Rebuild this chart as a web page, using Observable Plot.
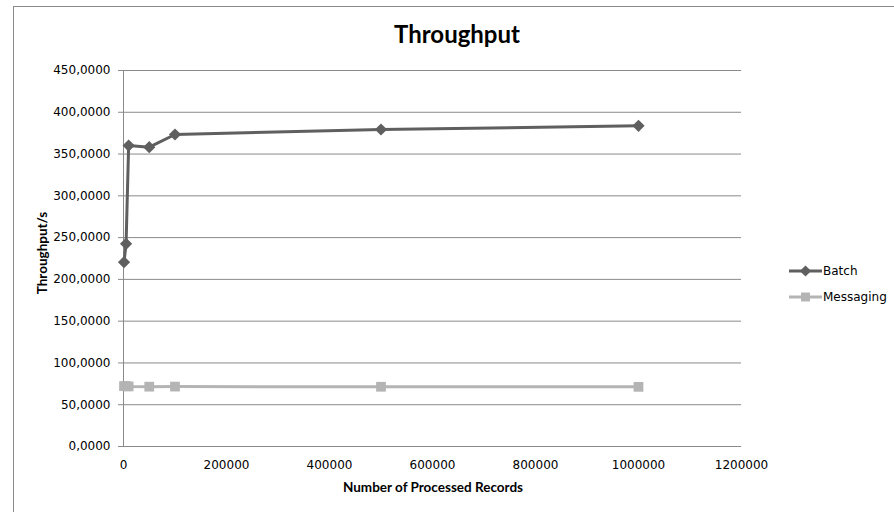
<!DOCTYPE html>
<html>
<head>
<meta charset="utf-8">
<script src="https://cdn.jsdelivr.net/npm/d3@7"></script>
<script src="https://cdn.jsdelivr.net/npm/@observablehq/plot@0.6"></script>
<style>
  html, body { margin: 0; padding: 0; background: #fff; }
  #wrap { position: relative; width: 894px; height: 512px; overflow: hidden; font-family: "DejaVu Sans", sans-serif; }
  #frame { position: absolute; left: 13px; top: 6px; width: 1000px; height: 1000px; border: 1px solid #8a8a8a; box-sizing: border-box; }
  #chart { position: absolute; left: 0; top: 0; }
  .ttl { position: absolute; font-family: Lato, "DejaVu Sans", sans-serif; font-weight: bold; color: #000; white-space: nowrap; }
  #legend { position: absolute; left: 0; top: 0; }
</style>
</head>
<body>
<div id="wrap">
  <div id="frame"></div>
  <div id="chart"></div>
  <div class="ttl" id="title"></div>
  <div class="ttl" id="xtitle"></div>
  <div class="ttl" id="ytitle"></div>
  <svg id="legend" width="894" height="512"></svg>
</div>
<script>
const titleText = "Throughput";
const xTitle = "Number of Processed Records";
const yTitle = "Throughput/s";

const records = [1000, 5000, 10000, 50000, 100000, 500000, 1000000];
const batch = [220.6, 242.6, 360.2, 358.2, 373.4, 379.4, 383.8];
const messaging = [72.3, 72.1, 71.9, 71.6, 71.7, 71.5, 71.4];

const seriesNames = ["Batch", "Messaging"];
const seriesColors = ["#5f5f5f", "#b4b4b4"];
const seriesSymbols = ["diamond2", "square"];

const xTicks = [0, 200000, 400000, 600000, 800000, 1000000, 1200000];
const yTicks = [0, 50, 100, 150, 200, 250, 300, 350, 400, 450];

const rows = [];
records.forEach((r, i) => {
  rows.push({records: r, value: batch[i], series: seriesNames[0]});
});
records.forEach((r, i) => {
  rows.push({records: r, value: messaging[i], series: seriesNames[1]});
});

const fmtY = d => d.toFixed(4).replace(".", ",");

const chart = Plot.plot({
  width: 894,
  height: 512,
  marginLeft: 123,
  marginRight: 153,
  marginTop: 70,
  marginBottom: 66,
  style: {fontFamily: "DejaVu Sans, sans-serif", fontSize: "12px", color: "#000", background: "transparent"},
  x: {domain: [0, 1200000], ticks: xTicks, tickFormat: d => String(d)},
  y: {domain: [0, 450], ticks: yTicks, tickFormat: fmtY},
  color: {domain: seriesNames, range: seriesColors},
  symbol: {domain: seriesNames, range: seriesSymbols},
  marks: [
    Plot.gridY(yTicks, {stroke: "#8a8a8a", strokeOpacity: 1, strokeWidth: 1}),
    Plot.ruleX([0], {stroke: "#8a8a8a", strokeWidth: 1}),
    Plot.axisY(yTicks, {tickSize: 5, tickPadding: 8, tickFormat: fmtY, label: null, stroke: "#8a8a8a", fill: "#000"}),
    Plot.axisX(xTicks, {tickSize: 0, tickPadding: 14, tickFormat: d => String(d), label: null, fill: "#000"}),
    Plot.line(rows, {x: "records", y: "value", z: "series", stroke: "series", strokeWidth: 3}),
    Plot.dot(rows, {x: "records", y: "value", fill: "series", symbol: "series", r: 5.5, stroke: "none"})
  ]
});
document.getElementById("chart").appendChild(chart);

const t = document.getElementById("title");
t.textContent = titleText;
t.style.fontSize = "24px";
t.style.left = "0px"; t.style.width = "914px"; t.style.textAlign = "center"; t.style.top = "19px";

const xt = document.getElementById("xtitle");
xt.textContent = xTitle;
xt.style.fontSize = "13.5px";
xt.style.left = "233px"; xt.style.width = "400px"; xt.style.textAlign = "center"; xt.style.top = "479px";

const yt = document.getElementById("ytitle");
yt.textContent = yTitle;
yt.style.fontSize = "13.5px";
yt.style.width = "200px"; yt.style.textAlign = "center";
yt.style.left = (42 - 100) + "px"; yt.style.top = (253 - 8) + "px";
yt.style.transform = "rotate(-90deg)";

const lg = d3.select("#legend");
const legY = [271, 297];
seriesNames.forEach((name, i) => {
  const g = lg.append("g");
  g.append("line").attr("x1", 789).attr("x2", 822).attr("y1", legY[i]).attr("y2", legY[i])
    .attr("stroke", seriesColors[i]).attr("stroke-width", 3);
  g.append("path").attr("d", d3.symbol(i === 0 ? d3.symbolDiamond2 : d3.symbolSquare, 80)())
    .attr("transform", `translate(805.5,${legY[i]})`).attr("fill", seriesColors[i]);
  g.append("text").attr("x", 823).attr("y", legY[i]).attr("dy", "0.35em")
    .attr("font-family", "DejaVu Sans, sans-serif").attr("font-size", 12).attr("fill", "#000").text(name);
});
</script>
</body>
</html>
